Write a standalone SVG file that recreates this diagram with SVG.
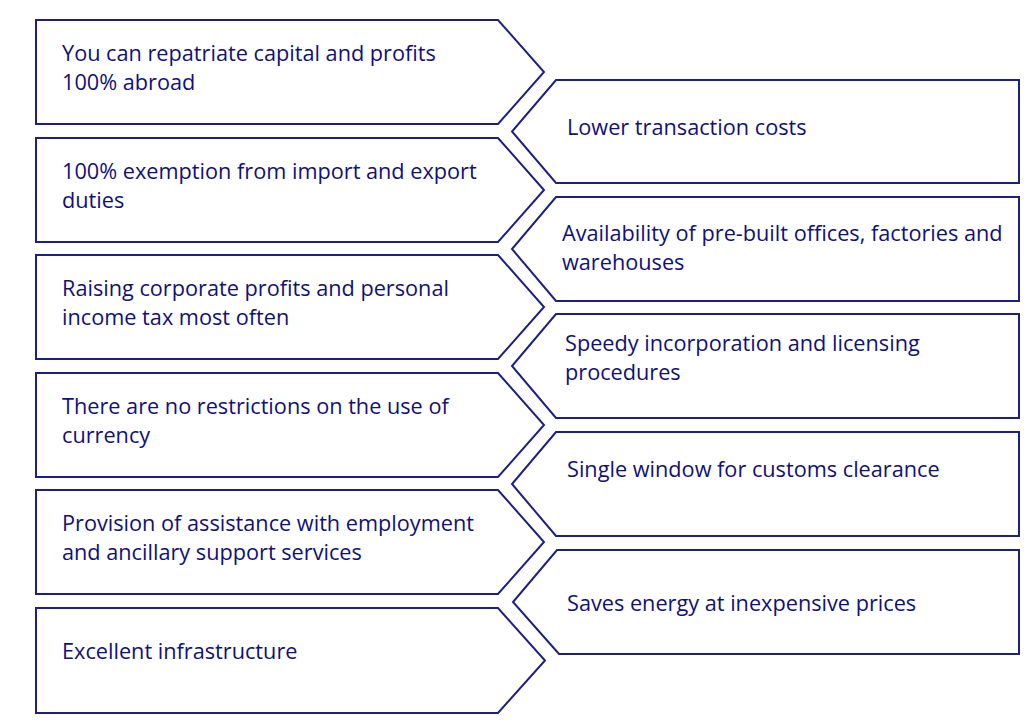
<svg xmlns="http://www.w3.org/2000/svg" width="1024" height="720" viewBox="0 0 1024 720">
<style>
.box{fill:#fff;stroke:#1f1f7e;stroke-width:2;stroke-linejoin:miter}
text{font-family:"Open Sans","Liberation Sans",sans-serif;font-size:21.7px;fill:#10107a}
</style>
<rect width="1024" height="720" fill="#fff"/>
<g id="connectors"></g>
<g id="l1"><polygon class="box" points="36,20 498,20 544,72 498,124 36,124"/><text x="62" y="61">You can repatriate capital and profits</text><text x="62" y="90">100% abroad</text></g>
<g id="l2"><polygon class="box" points="36,138 498,138 544,190 498,242 36,242"/><text x="62" y="179">100% exemption from import and export</text><text x="62" y="208">duties</text></g>
<g id="l3"><polygon class="box" points="36,255 498,255 544,307 498,359 36,359"/><text x="62" y="296">Raising corporate profits and personal</text><text x="62" y="325">income tax most often</text></g>
<g id="l4"><polygon class="box" points="36,373 498,373 544,425 498,477 36,477"/><text x="62" y="414">There are no restrictions on the use of</text><text x="62" y="443">currency</text></g>
<g id="l5"><polygon class="box" points="36,490 498,490 544,542 498,594 36,594"/><text x="62" y="531">Provision of assistance with employment</text><text x="62" y="560">and ancillary support services</text></g>
<g id="l6"><polygon class="box" points="36,608 498,608 545,660.5 498,713 36,713"/><text x="62" y="659">Excellent infrastructure</text></g>
<g id="r1"><polygon class="box" points="556,80 1019,80 1019,183 556,183 512,131.5"/><text x="567" y="135">Lower transaction costs</text></g>
<g id="r2"><polygon class="box" points="556,197 1019,197 1019,301 556,301 512,249"/><text x="562" y="241">Availability of pre-built offices, factories and</text><text x="562" y="270">warehouses</text></g>
<g id="r3"><polygon class="box" points="556,314 1019,314 1019,418 556,418 512,366"/><text x="565" y="351">Speedy incorporation and licensing</text><text x="565" y="380">procedures</text></g>
<g id="r4"><polygon class="box" points="556,432 1019,432 1019,536 556,536 512,484"/><text x="567" y="477">Single window for customs clearance</text></g>
<g id="r5"><polygon class="box" points="557,550 1019,550 1019,654 559,654 513,602"/><text x="567" y="611">Saves energy at inexpensive prices</text></g>
</svg>
